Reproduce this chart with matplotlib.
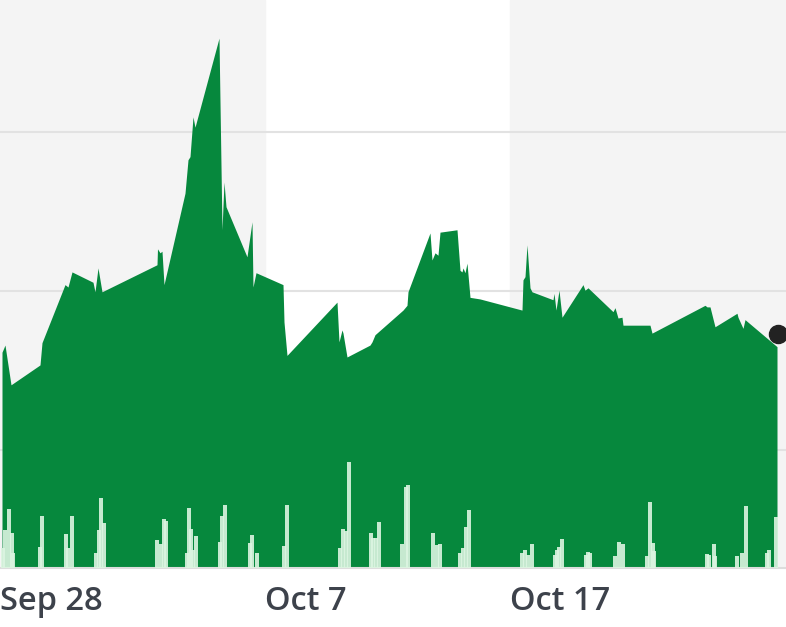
import numpy as np
import matplotlib.pyplot as plt

#price trace (time position, price)
t = [0.2, 0.5, 1.1, 4.0, 4.2, 6.5, 6.8, 7.2, 9.3, 9.5, 9.8, 10.2, 15.7, 15.75, 16.0, 16.2, 16.4,
     18.5, 18.8, 19.0, 19.3, 19.5, 21.9, 22.2, 22.4, 22.6, 24.7, 25.2, 25.3, 25.6, 28.3, 28.4, 28.7,
     33.7, 33.9, 34.2, 34.3, 34.7, 37.0, 37.2, 37.5, 40.3, 40.7, 40.8, 43.0, 43.2, 43.5, 43.8, 44.0,
     45.7, 46.0, 46.2, 46.3, 46.5, 46.7, 47.0, 48.0, 52.2, 52.3, 52.5, 52.7, 53.0, 53.2, 55.3, 55.4,
     55.6, 55.9, 56.2, 58.3, 58.5, 58.8, 61.3, 61.5, 61.8, 62.2, 62.3, 65.0, 65.2, 70.5, 70.7, 71.0,
     71.5, 73.7, 73.8, 74.3, 74.5, 77.7]
price = [21.23, 21.32, 20.82, 21.07, 21.35, 22.08, 22.05, 22.24, 22.11, 21.99, 22.29, 21.99, 22.33, 22.53, 22.48, 22.50, 22.08,
         23.23, 23.65, 23.69, 24.19, 24.06, 25.18, 22.77, 23.37, 23.06, 22.43, 22.87, 22.05, 22.23, 22.08, 21.61, 21.19,
         21.86, 21.36, 21.51, 21.47, 21.17, 21.32, 21.36, 21.45, 21.76, 21.82, 21.99, 22.73, 22.39, 22.48, 22.45, 22.74,
         22.77, 22.26, 22.24, 22.29, 22.23, 22.35, 21.92, 21.90, 21.76, 22.14, 22.18, 22.58, 22.04, 21.99, 21.89, 21.97,
         21.76, 22.01, 21.67, 22.08, 22.01, 22.04, 21.74, 21.79, 21.66, 21.67, 21.57, 21.57, 21.47, 21.82, 21.80, 21.80,
         21.55, 21.72, 21.67, 21.53, 21.64, 21.30]
last_t = 77.8
last_price = 21.46

#volume bars (time position, thousands)
vol_t = [0.3, 0.5, 0.9, 1.2, 1.3, 4.0, 4.2, 6.6, 6.8, 7.2, 9.6, 9.9, 10.1, 10.4, 15.7, 16.1, 16.4, 16.6,
         18.7, 18.9, 19.1, 19.3, 19.6, 22.0, 22.2, 22.5, 25.0, 25.2, 25.7, 28.4, 28.7, 34.0, 34.3, 34.6, 34.9,
         37.1, 37.3, 37.6, 37.9, 40.2, 40.6, 40.8, 43.3, 43.7, 44.0, 46.0, 46.3, 46.6, 46.9, 52.2, 52.5, 52.8,
         53.2, 55.5, 55.7, 55.9, 56.2, 58.6, 58.8, 59.0, 61.5, 61.9, 62.3, 64.7, 65.0, 65.3, 65.4, 70.7, 70.9,
         71.4, 71.5, 73.7, 74.2, 74.6, 76.7, 76.9, 77.6]
volume = [200, 380, 590, 350, 150, 210, 520, 340, 200, 520, 150, 380, 700, 450, 280, 240, 490, 470,
          150, 600, 390, 180, 320, 260, 520, 630, 250, 330, 150, 220, 630, 200, 390, 370, 1060,
          350, 300, 300, 460, 240, 810, 830, 350, 230, 240, 150, 200, 410, 580, 150, 180, 130,
          240, 130, 180, 210, 290, 130, 160, 150, 120, 260, 240, 120, 660, 250, 170, 140, 130,
          240, 120, 120, 150, 620, 150, 180, 510]

tick_pos = [0, 26.5, 51.0]
tick_labels = ['Sep 28', 'Oct 7', 'Oct 17']

fig = plt.figure(figsize=(7.86, 6.27), dpi=100)
ax = fig.add_axes([0, 0.0941, 1, 0.9059])

#alternating background bands
ax.axvspan(0, 26.5, color='#f4f4f4', zorder=0)
ax.axvspan(51.0, 78.6, color='#f4f4f4', zorder=0)
for g in [20, 22, 24]:
    ax.axhline(g, color='#e2e2e2', lw=1.5, zorder=1)

ax.fill_between(t, price, 18.516, color='#06883d', lw=0, zorder=2)
ax.plot(last_t, last_price, 'o', color='#222222', ms=13, clip_on=False, zorder=5)

ax.set_xlim(0, 78.6)
ax.set_ylim(18.516, 25.66)
ax.set_yticks([])
ax.set_xticks(tick_pos)
ax.set_xticklabels(tick_labels, ha='left', fontsize=23.5, fontweight='semibold',
                   color='#3d424b', family='Open Sans')
ax.tick_params(axis='x', length=0, pad=12)
for s in ['top', 'left', 'right']:
    ax.spines[s].set_visible(False)
ax.spines['bottom'].set_color('#dddddd')
ax.spines['bottom'].set_linewidth(1.5)

#volume on its own scale, drawn over the price area
ax2 = ax.twinx()
ax2.bar(vol_t, volume, width=0.35, color='#dcf5e1', alpha=0.9, lw=0)
ax2.set_ylim(0, 5680)
ax2.set_yticks([])
ax2.patch.set_visible(False)
for s in ax2.spines.values():
    s.set_visible(False)

plt.savefig('out.png')
